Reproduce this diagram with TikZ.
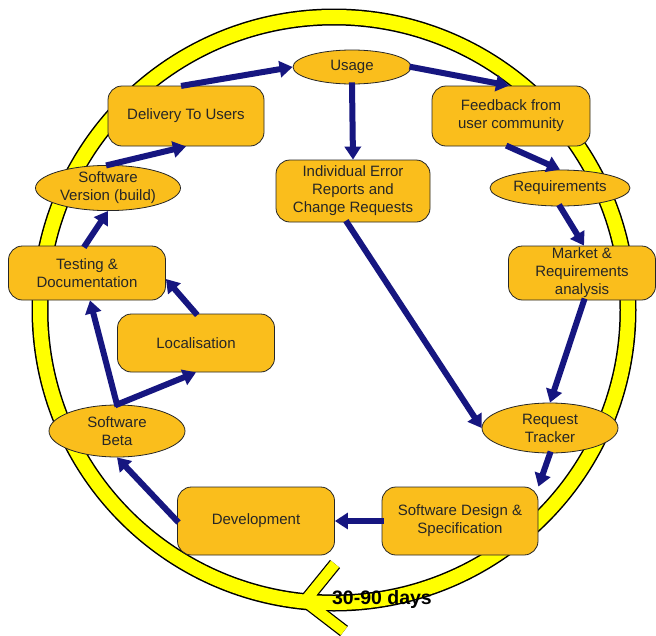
\documentclass[tikz,border=0pt]{standalone}
\usepackage{fontspec}
\setmainfont{Liberation Sans}
\usetikzlibrary{shapes.geometric,arrows.meta}
\definecolor{boxfill}{RGB}{250,190,28}
\definecolor{navy}{RGB}{22,22,128}
\definecolor{ringy}{RGB}{255,255,0}
\tikzset{
  proc/.style={draw=black!85, line width=0.8pt, fill=boxfill, rounded corners=14pt, align=center, inner sep=0pt, font=\fontsize{15}{18}\selectfont, text=black!85},
  oval/.style={draw=black!85, line width=0.8pt, fill=boxfill, ellipse, align=center, inner sep=0pt, font=\fontsize{15}{18}\selectfont, text=black!85},
  flow/.style={draw=navy, line width=6pt, -{Triangle[length=13pt,width=16pt]}, shorten <=-2pt},
}
\begin{document}
\begin{tikzpicture}[x=1pt,y=-1pt]
\useasboundingbox (0,0) rectangle (656,635);
\fill[white] (0,0) rectangle (656,635);
% ring
\coordinate (rc) at (334,310);
\coordinate (bj) at (305,601);
\coordinate (b1) at (335,564);
\coordinate (b2) at (344,631);
\draw[black, line width=17pt] (rc) ellipse [x radius=294, y radius=293];
\draw[black, line width=13pt] (bj) -- (b1);
\draw[black, line width=13pt] (bj) -- (b2);
\draw[ringy, line width=14pt] (rc) ellipse [x radius=294, y radius=293];
\draw[ringy, line width=10.5pt] (bj) -- (b1);
\draw[ringy, line width=10.5pt] (bj) -- (b2);
% nodes
\node[oval, minimum width=118pt, minimum height=34pt] (usage) at (352,67) {Usage};
\node[proc, minimum width=156pt, minimum height=60pt] (deliv) at (186,116) {Delivery To Users};
\node[proc, minimum width=158pt, minimum height=60pt] (feed) at (511,116) {Feedback from\\user community};
\node[oval, minimum width=145pt, minimum height=45pt] (ver) at (108,188) {Software\\Version (build)};
\node[proc, minimum width=154pt, minimum height=62pt] (indiv) at (353,191) {Individual Error\\Reports and\\Change Requests};
\node[oval, minimum width=140pt, minimum height=36pt] (req) at (560,188) {Requirements};
\node[proc, minimum width=157pt, minimum height=54pt] (test) at (87,273) {Testing \&\\Documentation};
\node[proc, minimum width=147pt, minimum height=54pt] (market) at (582,273) {Market \&\\Requirements\\analysis};
\node[proc, minimum width=157pt, minimum height=58pt] (local) at (196,343) {Localisation};
\node[oval, minimum width=136pt, minimum height=52pt] (beta) at (117,431) {Software\\Beta};
\node[oval, minimum width=136pt, minimum height=50pt] (tracker) at (550,428) {Request\\Tracker};
\node[proc, minimum width=157pt, minimum height=68pt] (dev) at (256,521) {Development};
\node[proc, minimum width=156pt, minimum height=68pt] (design) at (460,521) {Software Design \&\\Specification};
% connectors
\draw[flow] ([xshift=-3pt]deliv.north) -- (usage.west);
\draw[flow] (usage.east) -- ([xshift=-2pt]feed.north);
\draw[flow] (usage.south) -- (indiv.north);
\draw[flow] ([xshift=-3pt]feed.south) -- (req.north);
\draw[flow] (req.south) -- ([xshift=2pt]market.north);
\draw[flow] ([xshift=2pt]market.south) -- (tracker.north);
\draw[flow] ([xshift=-6pt]indiv.south) -- (tracker.west);
\draw[flow] (tracker.south) -- (design.north east);
\draw[flow] (design.west) -- (dev.west -| dev.east);
\draw[flow] (dev.west) -- (beta.south);
\draw[flow] (beta.north) -- ([xshift=3pt]test.south);
\draw[flow] (beta.north) -- (local.south);
\draw[flow] (local.north) -- ([yshift=-6pt]test.east);
\draw[flow] ([xshift=-2pt]test.north) -- (ver.south);
\draw[flow] (ver.north) -- (deliv.south);
% label
\node[font=\bfseries\fontsize{19.5}{22}\selectfont, inner sep=0pt, text=black] (days) at (382,599) {30-90 days};
\end{tikzpicture}
\end{document}
